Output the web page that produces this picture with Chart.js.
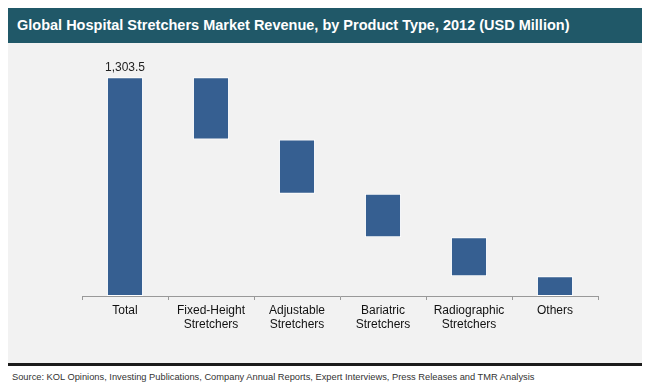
<!DOCTYPE html>
<html>
<head>
<meta charset="utf-8">
<script src="https://cdn.jsdelivr.net/npm/chart.js@4"></script>
<style>
  body { margin:0; background:#fff; width:650px; height:391px; position:relative; overflow:hidden; font-family:Arial, "Liberation Sans", sans-serif; }
  #title { position:absolute; left:8px; top:8px; width:634px; height:35px; background:#205868; color:#fff; font-weight:bold; font-size:14.5px; line-height:35px; padding-left:9px; box-sizing:border-box; }
  #panel { position:absolute; left:8px; top:43px; width:634px; height:320px; background:#f2f2f2; }
  #rule { position:absolute; left:8px; top:363px; width:634px; height:3px; background:#1c1c1c; }
  #source { position:absolute; left:12px; top:372px; font-size:9.3px; color:#333; }
  #wrap { position:absolute; left:0; top:43px; width:650px; height:320px; }
</style>
</head>
<body>
<div id="title">Global Hospital Stretchers Market Revenue, by Product Type, 2012 (USD Million)</div>
<div id="panel"></div>
<div id="rule"></div>
<div id="source">Source: KOL Opinions, Investing Publications, Company Annual Reports, Expert Interviews, Press Releases and TMR Analysis</div>
<div id="wrap"><canvas id="myChart" width="650" height="320"></canvas></div>
<script>
var categories = [["Total"], ["Fixed-Height", "Stretchers"], ["Adjustable", "Stretchers"], ["Bariatric", "Stretchers"], ["Radiographic", "Stretchers"], ["Others"]];
var total = 1303.5;
var parts = [371.5, 323.5, 257.8, 233.7, 117.0];

// waterfall: total bar from zero, then each part hangs down from the running level
var bars = [[0, total]];
var level = total;
for (var i = 0; i < parts.length; i++) {
  bars.push([level - parts[i], level]);
  level -= parts[i];
}

var totalLabel = {
  id: 'totalLabel',
  afterDatasetsDraw: function(chart) {
    var ctx = chart.ctx;
    var bar = chart.getDatasetMeta(0).data[0];
    ctx.save();
    ctx.fillStyle = '#222';
    ctx.font = '12px Arial, "Liberation Sans", sans-serif';
    ctx.textAlign = 'center';
    ctx.textBaseline = 'bottom';
    ctx.fillText(total.toLocaleString('en-US', {minimumFractionDigits: 1}), bar.x, bar.y - 4);
    ctx.restore();
  }
};

var ctx = document.getElementById("myChart").getContext('2d');
var myChart = new Chart(ctx, {
  type: 'bar',
  data: {
    labels: categories,
    datasets: [{
      data: bars,
      backgroundColor: '#365f91',
      borderColor: '#ffffff',
      borderWidth: 1,
      borderSkipped: false,
      barPercentage: 0.42,
      categoryPercentage: 1
    }]
  },
  options: {
    responsive: false,
    animation: false,
    layout: { padding: { left: 82, right: 52, top: 18, bottom: 0 } },
    plugins: { legend: { display: false }, tooltip: { enabled: false } },
    scales: {
      x: {
        grid: { drawOnChartArea: false, drawTicks: true, tickLength: 4, color: '#999' },
        border: { display: true, color: '#999' },
        ticks: { color: '#111', padding: 3, maxRotation: 0, font: { family: 'Arial, "Liberation Sans", sans-serif', size: 12 } },
        afterFit: function(scale) { scale.height = 67; }
      },
      y: { display: false, min: 0, max: 1400 }
    }
  },
  plugins: [totalLabel]
});
</script>
</body>
</html>
